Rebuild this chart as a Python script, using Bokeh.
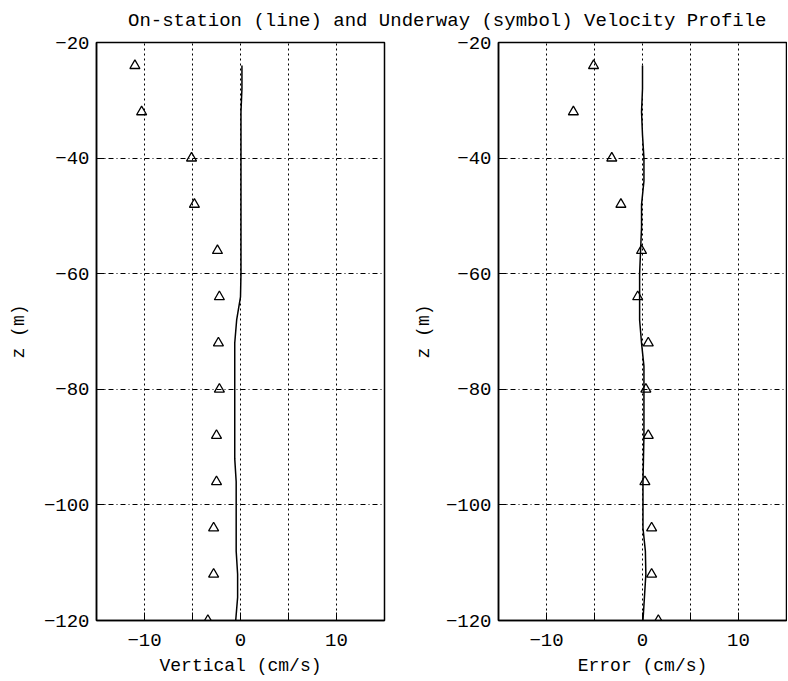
from bokeh.plotting import figure
from bokeh.models import Range1d, FixedTicker, Div
from bokeh.layouts import row, column
from bokeh.embed import file_html
from bokeh.resources import INLINE

TITLE = "On-station (line) and Underway (symbol) Velocity Profile"

# Underway (symbol) profile
sym_z = [-24, -32, -40, -48, -56, -64, -72, -80, -88, -96, -104, -112, -120]
sym_vertical = [-11.0, -10.3, -5.1, -4.8, -2.4, -2.2, -2.3, -2.2, -2.5, -2.5, -2.8, -2.8, -3.4]
sym_error = [-5.1, -7.2, -3.2, -2.25, -0.1, -0.5, 0.6, 0.35, 0.6, 0.25, 0.95, 0.95, 1.65]

# On-station (line) profile
line_z = [-24, -28, -32, -36, -40, -44, -48, -52, -56, -60, -64, -68, -72,
          -76, -80, -84, -88, -92, -96, -100, -104, -108, -112, -116, -120]
line_vertical = [0.15, 0.15, 0.05, 0.05, 0.05, 0.05, 0.05, 0.05, 0.05, 0.05, 0.0, -0.4, -0.6,
                 -0.6, -0.6, -0.6, -0.6, -0.6, -0.45, -0.45, -0.45, -0.45, -0.3, -0.3, -0.5]
line_error = [0.0, 0.0, -0.1, 0.0, 0.15, 0.15, -0.1, -0.1, -0.2, -0.3, -0.3, -0.3, -0.1,
              0.15, 0.15, 0.15, 0.15, 0.1, 0.05, 0.05, 0.05, 0.3, 0.35, 0.2, 0.05]

x_ticks = [-10, 0, 10]
x_minor_ticks = [-5, 5]
y_ticks = [-120, -100, -80, -60, -40, -20]
x_label_vertical = "Vertical (cm/s)"
x_label_error = "Error (cm/s)"
y_label = "z (m)"

FONT = "Liberation Mono"


def fmt(t):
    return str(t).replace("-", "\u2212")


def make_panel(xlabel, line_x, sym_x, width, border_left, border_right, ylabel_standoff):
    p = figure(width=width, height=648, x_range=Range1d(-15, 15), y_range=Range1d(-120, -20),
               output_backend="svg", toolbar_location=None,
               min_border_left=border_left, min_border_right=border_right,
               min_border_top=12, min_border_bottom=58)
    p.background_fill_color = "white"
    p.border_fill_color = "white"
    p.outline_line_color = "black"
    p.outline_line_width = 1.5

    p.xaxis.ticker = FixedTicker(ticks=x_ticks, minor_ticks=x_minor_ticks)
    p.yaxis.ticker = FixedTicker(ticks=y_ticks, minor_ticks=[])
    p.xaxis.major_label_overrides = {t: fmt(t) for t in x_ticks}
    p.yaxis.major_label_overrides = {t: fmt(t) for t in y_ticks}

    for ax in (p.xaxis[0], p.yaxis[0]):
        ax.axis_line_color = "black"
        ax.axis_line_width = 1.5
        ax.major_tick_in = 8
        ax.major_tick_out = 0
        ax.minor_tick_in = 8
        ax.minor_tick_out = 0
        ax.major_tick_line_color = "black"
        ax.minor_tick_line_color = "black"
        ax.major_label_text_font = FONT
        ax.major_label_text_font_size = "19px"
        ax.major_label_text_color = "black"
        ax.axis_label_text_font = FONT
        ax.axis_label_text_font_size = "18px"
        ax.axis_label_text_font_style = "normal"
        ax.axis_label_text_color = "black"

    p.xaxis.axis_label = xlabel
    p.yaxis.axis_label = y_label
    p.xaxis.major_label_standoff = 13
    p.xaxis.axis_label_standoff = 7
    p.yaxis.major_label_standoff = 7
    p.yaxis.axis_label_standoff = ylabel_standoff

    p.xgrid.ticker = FixedTicker(ticks=x_ticks, minor_ticks=x_minor_ticks)
    p.xgrid.grid_line_color = "black"
    p.xgrid.grid_line_dash = "2 3"
    p.xgrid.grid_line_width = 1
    p.xgrid.minor_grid_line_color = "black"
    p.xgrid.minor_grid_line_dash = "2 3"
    p.xgrid.minor_grid_line_width = 1
    p.ygrid.ticker = FixedTicker(ticks=y_ticks, minor_ticks=[])
    p.ygrid.grid_line_color = "black"
    p.ygrid.grid_line_dash = "5 3 1 3"
    p.ygrid.grid_line_width = 1

    p.line(line_x, line_z, line_color="black", line_width=1.5)
    p.scatter(sym_x, sym_z, marker="triangle", size=10, fill_color=None,
              line_color="black", line_width=1.3)
    p.margin = 0
    return p


p1 = make_panel(x_label_vertical, line_vertical, sym_vertical, 408, 96, 24, 12)
p2 = make_panel(x_label_error, line_error, sym_error, 379, 90, 1, 9)

title_div = Div(
    text=('<div style="font-family:\'Liberation Mono\';font-size:19px;line-height:21px;'
          'padding-left:128px;padding-top:11px;white-space:nowrap;color:#000">'
          + TITLE + '</div>'),
    width=787, height=30, margin=0)

layout = column(title_div, row(p1, p2, spacing=0, margin=0), spacing=0, margin=0)

open("out.html", "w").write(file_html(layout, INLINE))
